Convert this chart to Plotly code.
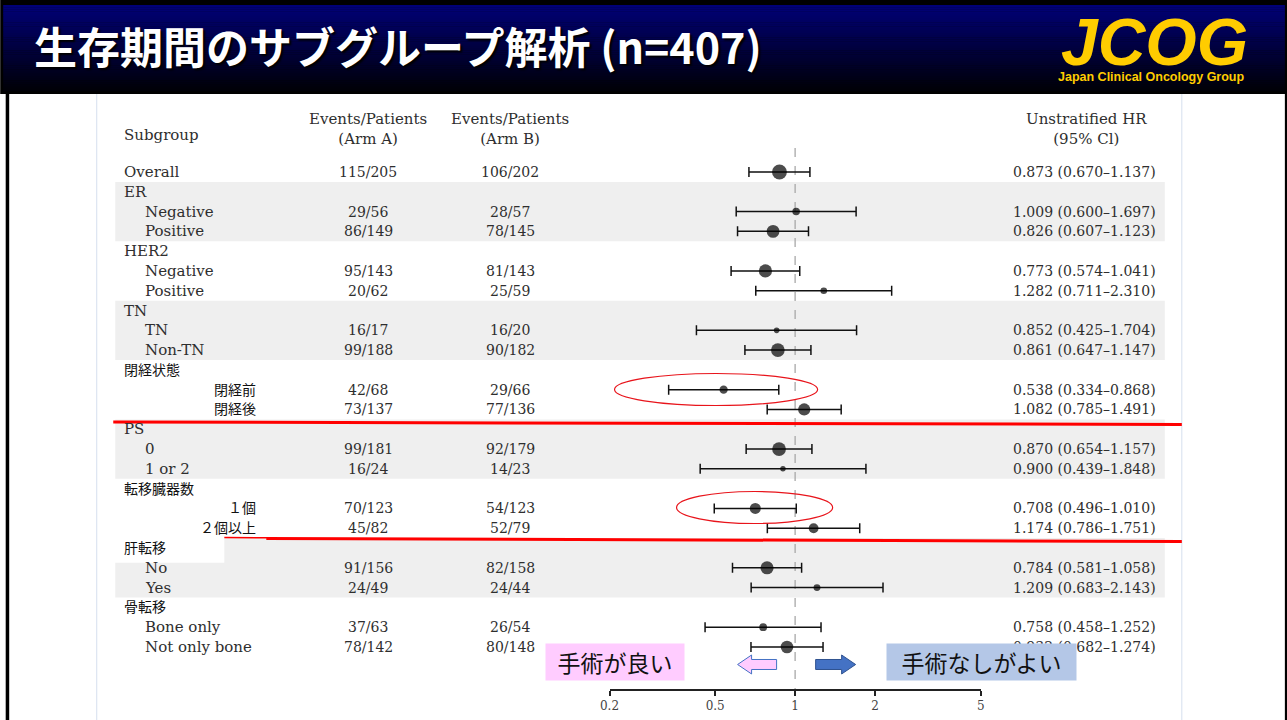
import numpy as np
import plotly.graph_objects as go

# ---------------------------------------------------------------- data
subgroups = ["Overall", "ER", "Negative", "Positive", "HER2", "Negative", "Positive",
             "TN", "TN", "Non-TN", "閉経状態", "閉経前", "閉経後", "PS", "0", "1 or 2",
             "転移臓器数", "１個", "２個以上", "肝転移", "No", "Yes", "骨転移",
             "Bone only", "Not only bone"]
# 0 = group heading, 1 = subgroup level
levels = [0, 0, 1, 1, 0, 1, 1, 0, 1, 1, 0, 1, 1, 0, 1, 1, 0, 1, 1, 0, 1, 1, 0, 1, 1]

events_a = ["115/205", None, "29/56", "86/149", None, "95/143", "20/62", None, "16/17", "99/188",
            None, "42/68", "73/137", None, "99/181", "16/24", None, "70/123", "45/82", None,
            "91/156", "24/49", None, "37/63", "78/142"]
events_b = ["106/202", None, "28/57", "78/145", None, "81/143", "25/59", None, "16/20", "90/182",
            None, "29/66", "77/136", None, "92/179", "14/23", None, "54/123", "52/79", None,
            "82/158", "24/44", None, "26/54", "80/148"]
hr = [0.873, None, 1.009, 0.826, None, 0.773, 1.282, None, 0.852, 0.861, None, 0.538, 1.082,
      None, 0.870, 0.900, None, 0.708, 1.174, None, 0.784, 1.209, None, 0.758, 0.932]
ci_lo = [0.670, None, 0.600, 0.607, None, 0.574, 0.711, None, 0.425, 0.647, None, 0.334, 0.785,
         None, 0.654, 0.439, None, 0.496, 0.786, None, 0.581, 0.683, None, 0.458, 0.682]
ci_hi = [1.137, None, 1.697, 1.123, None, 1.041, 2.310, None, 1.704, 1.147, None, 0.868, 1.491,
         None, 1.157, 1.848, None, 1.010, 1.751, None, 1.058, 2.143, None, 1.252, 1.274]

tick_vals = [0.2, 0.5, 1, 2, 5]
tick_text = ["0.2", "0.5", "1", "2", "5"]

title_text = "生存期間のサブグループ解析 (n=407)"
favours_left = "手術が良い"
favours_right = "手術なしがよい"

# ---------------------------------------------------------------- geometry
W, H = 1287, 720
SX, OX = 0.9886, 9.8              # horizontal placement correction of the rendered page
ROW0, ROWPX = 172, 19.79          # pixel centre of first row, row pitch
Y_TOP, Y_AXIS = 94, 689           # plot area top / x-axis line (pixels)
X_LO, X_HI = 609, 980             # pixel extent of the HR axis

SERIF = "DejaVu Serif"
JP = "Noto Sans CJK JP"
TXT = "#2e2e2e"


def px(x):
    return (x - OX) / SX / W


def py(y):
    return 1 - y / H


def row_of(ypix):
    return (ypix - ROW0) / ROWPX


def is_jp(s):
    return any(ord(c) > 0x3000 for c in s)


rows = list(range(len(subgroups)))
fig = go.Figure()

# ---------------------------------------------------------------- shapes
shapes = []
# slide frame and header bar
shapes.append(dict(type="rect", xref="paper", yref="paper", x0=px(0), x1=px(1287),
                   y0=py(94), y1=1, fillcolor="#000000", line_width=0, layer="below"))
n_strips = 40
top_c, bot_c = np.array([0, 0, 118]), np.array([0, 0, 8])
for i in range(n_strips):
    y0 = 5 + (91 - 5) * i / n_strips
    y1 = 5 + (91 - 5) * (i + 1) / n_strips
    c = top_c + (bot_c - top_c) * (i / (n_strips - 1))
    shapes.append(dict(type="rect", xref="paper", yref="paper", x0=px(3), x1=px(1284),
                       y0=py(y1 + 0.3), y1=py(y0), line_width=0, layer="below",
                       fillcolor="rgb(%d,%d,%d)" % tuple(c.astype(int))))
shapes.append(dict(type="rect", xref="paper", yref="paper", x0=px(5.5), x1=px(9), y0=0,
                   y1=py(93), fillcolor="#000000", line_width=0, layer="below"))
shapes.append(dict(type="rect", xref="paper", yref="paper", x0=px(1284), x1=px(1290), y0=0,
                   y1=py(93), fillcolor="#000000", line_width=0, layer="below"))
for xe in (96.5, 1181):
    shapes.append(dict(type="line", xref="paper", yref="paper", x0=px(xe), x1=px(xe),
                       y0=0, y1=py(94), line=dict(color="#d5dfee", width=1), layer="below"))

# alternating group shading
heads = [i for i in rows if levels[i] == 0 and i > 0] + [len(rows)]
for k in range(len(heads) - 1):
    if k % 2 == 0:
        shapes.append(dict(type="rect", xref="paper", yref="y", x0=px(115), x1=px(1164),
                           y0=heads[k] - 0.5, y1=heads[k + 1] - 0.5,
                           fillcolor="#efefef", line_width=0, layer="below"))
# plain backing behind the pasted Japanese heading
liver = subgroups.index("肝転移")
shapes.append(dict(type="rect", xref="paper", yref="y", x0=px(113), x1=px(224),
                   y0=liver - 0.5, y1=liver + 0.75, fillcolor="white", line_width=0,
                   layer="below"))

# red separators
shapes.append(dict(type="line", xref="paper", yref="y", x0=px(113), x1=px(1181),
                   y0=row_of(422), y1=row_of(424.5), line=dict(color="#ff0000", width=3)))
shapes.append(dict(type="line", xref="paper", yref="y", x0=px(224), x1=px(268),
                   y0=row_of(537.5), y1=row_of(537.8), line=dict(color="#ff0000", width=1.5)))
shapes.append(dict(type="line", xref="paper", yref="y", x0=px(266), x1=px(1181),
                   y0=row_of(538.5), y1=row_of(541.5), line=dict(color="#ff0000", width=3)))

# red highlight ellipses
for (x0, x1, yc, hh) in [(614, 817, 389.5, 16), (676, 832, 507.5, 16)]:
    shapes.append(dict(type="circle", xref="paper", yref="paper", x0=px(x0), x1=px(x1),
                       y0=py(yc + hh), y1=py(yc - hh), line=dict(color="#e8141b", width=1.2)))


def arrow_path(xtail, xtip, yc, body_h, head_h, head_len):
    d = 1 if xtip > xtail else -1
    xb = xtip - d * head_len
    pts = [(xtail, yc - body_h / 2), (xb, yc - body_h / 2), (xb, yc - head_h / 2),
           (xtip, yc), (xb, yc + head_h / 2), (xb, yc + body_h / 2), (xtail, yc + body_h / 2)]
    return "M " + " L ".join("%.5f,%.5f" % (px(a), py(b)) for a, b in pts) + " Z"


shapes.append(dict(type="path", xref="paper", yref="paper",
                   path=arrow_path(776, 737, 664.5, 10, 19, 14),
                   fillcolor="#ffccff", line=dict(color="#4472c4", width=1)))
shapes.append(dict(type="path", xref="paper", yref="paper",
                   path=arrow_path(815, 855, 664.5, 10, 19, 14),
                   fillcolor="#4472c4", line=dict(color="#2f528f", width=1)))

# ---------------------------------------------------------------- traces
fig.add_trace(go.Scatter(x=[1, 1], y=[row_of(148), row_of(Y_AXIS)], mode="lines",
                         line=dict(color="#a8a8a8", width=1.3, dash="dash"),
                         hoverinfo="skip", showlegend=False))

idx = [i for i in rows if hr[i] is not None]
ea = np.array([int(events_a[i].split("/")[0]) for i in idx], float)
eb = np.array([int(events_b[i].split("/")[0]) for i in idx], float)
weight = 1.0 / (1.0 / ea + 1.0 / eb)          # inverse-variance weight of log HR
dot = 2.0 * np.sqrt(weight)

fig.add_trace(go.Scatter(
    x=[hr[i] for i in idx], y=idx, mode="markers",
    marker=dict(color="black", size=dot, line_width=0),
    error_x=dict(type="data", symmetric=False,
                 array=[ci_hi[i] - hr[i] for i in idx],
                 arrayminus=[hr[i] - ci_lo[i] for i in idx],
                 color="#111111", thickness=1.5, width=5),
    hoverinfo="skip", showlegend=False))

# ---------------------------------------------------------------- text
ann = []


def serif(text, x, y, anchor="left", size=15, color=TXT):
    ann.append(dict(text=text, xref="paper", yref="y", x=px(x), y=y, xanchor=anchor,
                    yanchor="middle", showarrow=False, align="center",
                    font=dict(family=SERIF, size=size, color=color)))


# column headings
serif("Subgroup", 122, row_of(135))
for xc, arm in [(368, "(Arm A)"), (510, "(Arm B)")]:
    serif("Events/Patients<br>" + arm, xc, row_of(128.5), "center", size=15)
serif("Unstratified HR<br>(95% Cl)", 1086, row_of(128.5), "center", size=15)

for i in rows:
    s = subgroups[i]
    if is_jp(s):
        xa, anchor = (122, "left") if levels[i] == 0 else (258, "right")
        ann.append(dict(text=s, xref="paper", yref="y", x=px(xa), y=i - 0.05, xanchor=anchor,
                        yanchor="middle", showarrow=False,
                        font=dict(family=JP, size=14, color="#111111")))
    else:
        serif(s, 122 if levels[i] == 0 else 143, i)
    if events_a[i]:
        serif(events_a[i], 368, i, "center", size=14)
        serif(events_b[i], 510, i, "center", size=14)
    if hr[i] is not None:
        serif("%.3f (%.3f–%.3f)" % (hr[i], ci_lo[i], ci_hi[i]), 1157, i, "right", size=14)

# direction labels (boxed)
ann.append(dict(text=favours_left, xref="paper", yref="paper", x=px(545), y=py(643),
                xanchor="left", yanchor="top", showarrow=False, width=136, height=34,
                bgcolor="#ffccff", align="center", valign="middle",
                font=dict(family=JP, size=23, color="#111111")))
ann.append(dict(text=favours_right, xref="paper", yref="paper", x=px(885), y=py(643),
                xanchor="left", yanchor="top", showarrow=False, width=187, height=34,
                bgcolor="#b4c7e7", align="center", valign="middle",
                font=dict(family=JP, size=23, color="#111111")))

# header bar
ann.append(dict(text="<b>" + title_text + "</b>", xref="paper", yref="paper", x=px(32),
                y=py(45), xanchor="left", yanchor="middle", showarrow=False,
                font=dict(family=JP, size=43, color="white", shadow="2px 2px 2px #000000")))
ann.append(dict(text="<b><i>JCOG</i></b>", xref="paper", yref="paper", x=px(1154),
                y=py(42), xanchor="center", yanchor="middle", showarrow=False,
                font=dict(family="Liberation Sans", size=66, color="#ffcc00")))
ann.append(dict(text="<b>Japan Clinical Oncology Group</b>", xref="paper", yref="paper",
                x=px(1151), y=py(77), xanchor="center", yanchor="middle", showarrow=False,
                font=dict(family="Liberation Sans", size=12.5, color="#ffcc00")))

# ---------------------------------------------------------------- layout
fig.update_layout(
    width=W, height=H, margin=dict(l=0, r=0, t=0, b=0),
    paper_bgcolor="white", plot_bgcolor="rgba(0,0,0,0)",
    shapes=shapes, annotations=ann, showlegend=False,
    xaxis=dict(type="log", range=[np.log10(0.2), np.log10(5)],
               domain=[px(X_LO), px(X_HI)], tickvals=tick_vals, ticktext=tick_text,
               showline=True, linecolor="#222222", linewidth=1.5, ticks="outside",
               ticklen=5, tickwidth=1.5, tickcolor="#222222", showgrid=False,
               zeroline=False, tickfont=dict(family=SERIF, size=12, color="#444444"),
               fixedrange=True),
    yaxis=dict(domain=[py(Y_AXIS), py(Y_TOP)], range=[row_of(Y_AXIS), row_of(Y_TOP)],
               visible=False, fixedrange=True),
)

fig.write_html("out.html")
